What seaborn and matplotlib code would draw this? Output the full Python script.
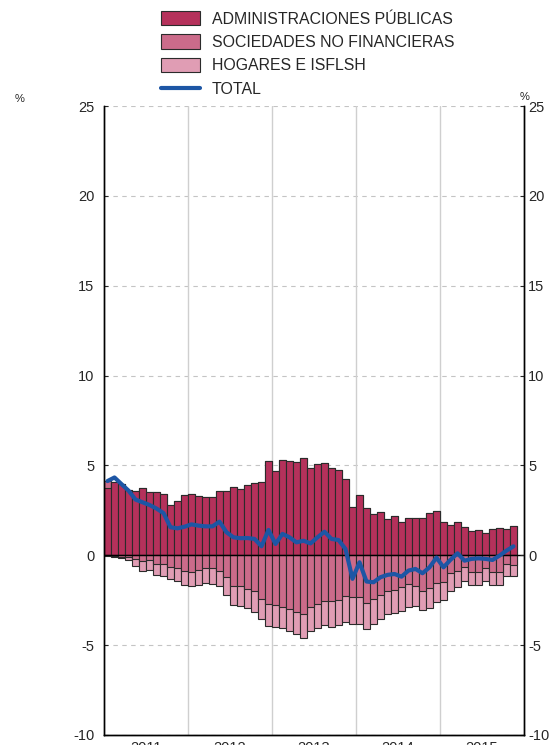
import numpy as np
import pandas as pd
import matplotlib
matplotlib.use("Agg")
import matplotlib.pyplot as plt
import seaborn as sns
from matplotlib.patches import Patch
from matplotlib.lines import Line2D

# datos mensuales ene-2011 .. nov-2015 (%)
aapp = [3.74, 4.06, 3.98, 3.65, 3.56, 3.72, 3.50, 3.50, 3.39, 2.81,
        3.00, 3.33, 3.43, 3.28, 3.24, 3.22, 3.56, 3.56, 3.81, 3.70,
        3.91, 4.00, 4.06, 5.22, 4.69, 5.30, 5.24, 5.17, 5.39, 4.87,
        5.07, 5.13, 4.83, 4.74, 4.24, 2.66, 3.33, 2.61, 2.30, 2.39,
        2.02, 2.21, 1.87, 2.10, 2.10, 2.10, 2.35, 2.44, 1.83, 1.69,
        1.83, 1.56, 1.37, 1.43, 1.22, 1.44, 1.54, 1.46, 1.65]
snf = [0.37, -0.05, -0.08, -0.10, -0.22, -0.30, -0.26, -0.48, -0.48, -0.67,
       -0.72, -0.87, -0.94, -0.80, -0.70, -0.70, -0.87, -1.22, -1.69, -1.72,
       -1.87, -2.00, -2.44, -2.73, -2.74, -2.87, -2.98, -3.17, -3.26, -2.90,
       -2.70, -2.52, -2.57, -2.48, -2.24, -2.31, -2.31, -2.65, -2.46, -2.20,
       -1.96, -1.94, -1.78, -1.59, -1.72, -1.96, -1.83, -1.56, -1.50, -0.98,
       -0.89, -0.67, -0.91, -0.91, -0.70, -0.94, -0.91, -0.50, -0.54]
hogares = [-0.05, -0.06, -0.09, -0.16, -0.35, -0.55, -0.54, -0.61, -0.65, -0.64,
           -0.72, -0.76, -0.75, -0.83, -0.86, -0.87, -0.82, -1.00, -1.06, -1.08,
           -1.07, -1.13, -1.10, -1.21, -1.26, -1.19, -1.22, -1.23, -1.34, -1.34,
           -1.34, -1.38, -1.41, -1.39, -1.47, -1.50, -1.50, -1.44, -1.35, -1.37,
           -1.30, -1.28, -1.31, -1.30, -1.11, -1.11, -1.10, -1.03, -0.98, -0.99,
           -0.89, -0.78, -0.74, -0.74, -0.73, -0.71, -0.72, -0.65, -0.59]
total = [4.13, 4.33, 3.96, 3.60, 3.10, 2.95, 2.80, 2.60, 2.35, 1.56,
         1.50, 1.59, 1.72, 1.65, 1.61, 1.61, 1.87, 1.28, 1.00, 0.95,
         0.96, 0.91, 0.50, 1.41, 0.63, 1.19, 1.00, 0.72, 0.81, 0.66,
         1.00, 1.31, 0.91, 0.85, 0.35, -1.31, -0.39, -1.46, -1.50, -1.22,
         -1.09, -1.04, -1.19, -0.85, -0.76, -1.00, -0.67, -0.13, -0.67, -0.25,
         0.11, -0.30, -0.20, -0.17, -0.20, -0.26, -0.02, 0.26, 0.50]
years = ["2011", "2012", "2013", "2014", "2015"]
series_labels = ["ADMINISTRACIONES PÚBLICAS", "SOCIEDADES NO FINANCIERAS",
                 "HOGARES E ISFLSH", "TOTAL"]

c_aapp = "#b5315b"
c_snf = "#cb6b8a"
c_hog = "#e09db4"
c_total = "#1d56a5"
edge = "#2b2b2b"

df = pd.DataFrame({"aapp": aapp, "snf": snf, "hog": hogares, "total": total})
df["pos"] = np.arange(len(df)) + 0.5
df["pos_top"] = df["aapp"] + df["snf"].clip(lower=0)
df["snf_neg"] = df["snf"].clip(upper=0)
df["neg_total"] = df["snf_neg"] + df["hog"]

sns.set_style("white")
plt.rcParams["font.family"] = ["Liberation Sans", "DejaVu Sans"]
plt.rcParams["axes.unicode_minus"] = False

fig = plt.figure(figsize=(5.58, 7.45), dpi=100)
ax = fig.add_axes([104 / 558, 1 - 735 / 745, 420 / 558, 629 / 745])

# barras apiladas por capas (la mayor primero)
kw = dict(native_scale=True, orient="x", width=0.86, saturation=1,
          errorbar=None, edgecolor=edge, linewidth=0.8, ax=ax)
sns.barplot(data=df, x="pos", y="pos_top", color=c_snf, **kw)
sns.barplot(data=df, x="pos", y="aapp", color=c_aapp, **kw)
sns.barplot(data=df, x="pos", y="neg_total", color=c_hog, **kw)
sns.barplot(data=df, x="pos", y="snf_neg", color=c_snf, **kw)

sns.lineplot(data=df, x="pos", y="total", color=c_total, linewidth=3, ax=ax, zorder=5)

ax.set_xlim(0, 60)
ax.set_ylim(-10, 25)
yt = np.arange(-10, 26, 5)
ax.set_yticks(yt)
for y in yt:
    if y != 0:
        ax.axhline(y, color="#c4c4c4", lw=0.8, ls=(0, (4, 4)), zorder=0)
for xv in [12, 24, 36, 48]:
    ax.axvline(xv, color="#cfcfcf", lw=1, zorder=0)
ax.axhline(0, color="black", lw=1, zorder=4)

ax.set_xticks([6, 18, 30, 42, 54])
ax.set_xticklabels(years)
ax.set_xticks(np.arange(3, 60, 3), minor=True)
ax.tick_params(axis="x", which="major", length=0, labelsize=10.5, pad=4)
ax.tick_params(axis="x", which="minor", direction="in", length=3, color="black")
ax.tick_params(axis="y", direction="in", length=3, labelsize=10.5, pad=7)
ax.set_xlabel("")
ax.set_ylabel("")

# eje derecho
ax2 = ax.twinx()
ax2.set_ylim(-10, 25)
ax2.set_yticks(yt)
ax2.tick_params(axis="y", direction="in", length=3, labelsize=10.5, pad=3)
ax2.grid(False)

for a in (ax, ax2):
    for s in ["left", "right", "bottom"]:
        a.spines[s].set_color("black")
        a.spines[s].set_linewidth(1)
    a.spines["top"].set_visible(False)

fig.text(15 / 558, 1 - 99 / 745, "%", fontsize=8, va="center")
fig.text(520 / 558, 1 - 97 / 745, "%", fontsize=8, va="center")

handles = [Patch(facecolor=c_aapp, edgecolor=edge, lw=0.8),
           Patch(facecolor=c_snf, edgecolor=edge, lw=0.8),
           Patch(facecolor=c_hog, edgecolor=edge, lw=0.8),
           Line2D([], [], color=c_total, lw=3)]
fig.legend(handles, series_labels, loc="upper left",
           bbox_to_anchor=(161 / 558, 1 - 11 / 745), frameon=False,
           fontsize=11.4, handlelength=2.45, handleheight=1.0,
           labelspacing=0.5, handletextpad=0.75, borderpad=0, borderaxespad=0)

fig.savefig("out.png", dpi=100)
